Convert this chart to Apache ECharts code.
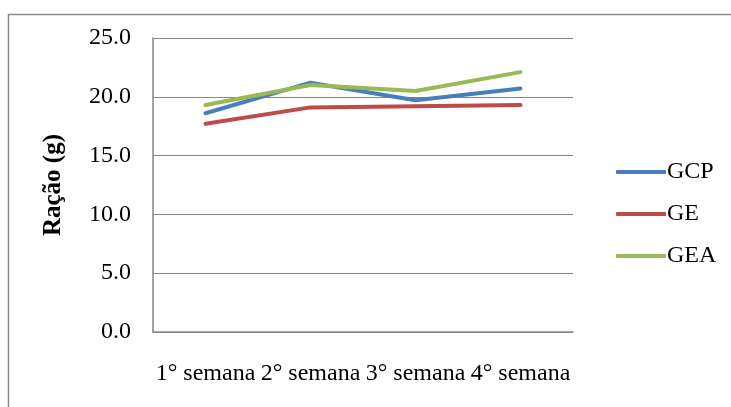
<!DOCTYPE html>
<html>
<head>
<meta charset="utf-8">
<script src="https://cdn.jsdelivr.net/npm/echarts@6/dist/echarts.min.js"></script>
<style>
  html, body { margin: 0; padding: 0; background: #fff; }
  #chart { width: 731px; height: 407px; }
</style>
</head>
<body>
<div id="chart"></div>
<script>
// Weekly feed intake (g) per group
const weeks = ['1° semana', '2° semana', '3° semana', '4° semana'];
const gcp = [18.6, 21.2, 19.7, 20.7];
const ge = [17.7, 19.1, 19.2, 19.3];
const gea = [19.3, 21.0, 20.5, 22.1];
const yTicks = { min: 0, max: 25, interval: 5 };

const serif = '"Liberation Serif", "Times New Roman", serif';
const chart = echarts.init(document.getElementById('chart'));

function line(name, data, color) {
  return {
    name, type: 'line', data,
    symbol: 'none',
    lineStyle: { color, width: 4, cap: 'round', join: 'round' },
    itemStyle: { color },
    animation: false
  };
}

chart.setOption({
  backgroundColor: '#fff',
  animation: false,
  graphic: [{
    type: 'rect',
    shape: { x: 8.5, y: 14.5, width: 760, height: 420 },
    style: { fill: 'none', stroke: '#8c8c8c', lineWidth: 1.5 },
    z: -1
  }],
  grid: { left: 153, right: 158, top: 38, bottom: 75 },
  legend: {
    orient: 'vertical',
    left: 611, top: 155,
    itemWidth: 50, itemHeight: 4,
    itemGap: 18,
    icon: 'roundRect',
    textStyle: { fontFamily: serif, fontSize: 24, color: '#000', padding: [0, 0, 0, -4] },
    data: ['GCP', 'GE', 'GEA']
  },
  xAxis: {
    type: 'category',
    data: weeks,
    boundaryGap: true,
    axisLine: { lineStyle: { color: '#868686', width: 1.5 } },
    axisTick: { show: false },
    axisLabel: { interval: 0, margin: 30, fontFamily: serif, fontSize: 24, color: '#000' }
  },
  yAxis: {
    type: 'value',
    min: yTicks.min, max: yTicks.max, interval: yTicks.interval,
    name: 'Ração (g)',
    nameLocation: 'middle',
    nameGap: 87,
    nameRotate: 90,
    nameTextStyle: { fontFamily: serif, fontSize: 25, fontWeight: 'bold', color: '#000' },
    axisLine: { show: true, lineStyle: { color: '#868686', width: 1.5 } },
    axisTick: { show: false },
    splitLine: { lineStyle: { color: '#868686', width: 1.2 } },
    axisLabel: {
      margin: 22, fontFamily: serif, fontSize: 24, color: '#000',
      formatter: v => v.toFixed(1)
    }
  },
  series: [
    line('GCP', gcp, '#4a7ebb'),
    line('GE', ge, '#be4b48'),
    line('GEA', gea, '#98b954')
  ]
});
</script>
</body>
</html>
